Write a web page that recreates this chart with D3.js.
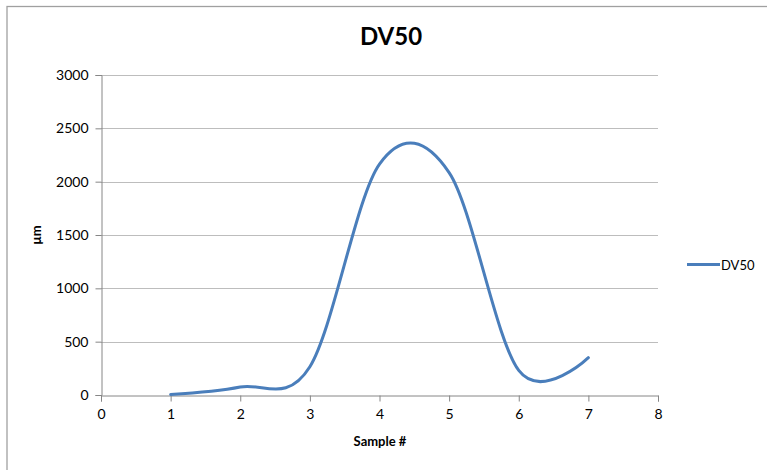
<!DOCTYPE html>
<html>
<head>
<meta charset="utf-8">
<script src="https://cdn.jsdelivr.net/npm/d3@7/dist/d3.min.js"></script>
<style>
  html, body { margin: 0; padding: 0; background: #fff; }
  svg { display: block; }
  text { font-family: Lato, "Open Sans", sans-serif; fill: #000; }
</style>
</head>
<body>
<script>
// Sample numbers and measured DV50 values (µm)
const samples = [1, 2, 3, 4, 5, 6, 7];
const dv50 = [5, 75, 265, 2165, 2085, 230, 350];
const xTicks = [0, 1, 2, 3, 4, 5, 6, 7, 8];
const yTicks = [0, 500, 1000, 1500, 2000, 2500, 3000];
const seriesName = "DV50";

const W = 767, H = 470;
const margin = { left: 101, right: 767 - 658, top: 75, bottom: 470 - 395 };

const svg = d3.select("body").append("svg").attr("width", W).attr("height", H);

// chart frame
svg.append("rect")
  .attr("x", 7).attr("y", 6.5).attr("width", 800).attr("height", 500)
  .attr("fill", "#fff").attr("stroke", "#a0a0a0").attr("stroke-width", 1.3);

const x = d3.scaleLinear().domain([0, 8]).range([margin.left, W - margin.right]);
const y = d3.scaleLinear().domain([0, 3000]).range([H - margin.bottom, margin.top]);

// horizontal gridlines
svg.append("g")
  .selectAll("line")
  .data(yTicks.filter(d => d > 0))
  .join("line")
  .attr("x1", x(0)).attr("x2", x(8))
  .attr("y1", d => Math.round(y(d)) + 0.5).attr("y2", d => Math.round(y(d)) + 0.5)
  .attr("stroke", "#bdbdbd").attr("stroke-width", 1);

// y axis
const yAxis = svg.append("g")
  .attr("transform", `translate(${Math.round(x(0)) + 0.5},0)`)
  .call(d3.axisLeft(y).tickValues(yTicks).tickSize(6).tickPadding(7).tickFormat(d3.format("d")));
yAxis.select(".domain").attr("stroke", "#868686");
yAxis.selectAll(".tick line").attr("stroke", "#868686");
yAxis.selectAll(".tick text").style("font-size", "14px").style("font-family", "Lato, sans-serif").attr("fill", "#000");

// x axis
const xAxis = svg.append("g")
  .attr("transform", `translate(0,${Math.round(y(0)) + 0.5})`)
  .call(d3.axisBottom(x).tickValues(xTicks).tickSize(6).tickPadding(8).tickFormat(d3.format("d")));
xAxis.select(".domain").attr("stroke", "#868686");
xAxis.selectAll(".tick line").attr("stroke", "#868686");
xAxis.selectAll(".tick text").style("font-size", "14px").style("font-family", "Lato, sans-serif").attr("fill", "#000");

// smoothed series line (uniform Catmull-Rom spline)
const line = d3.line()
  .x((d, i) => x(samples[i]))
  .y(d => y(d))
  .curve(d3.curveCardinal.tension(0));

svg.append("path")
  .datum(dv50)
  .attr("d", line)
  .attr("fill", "none")
  .attr("stroke", "#4a7ebb")
  .attr("stroke-width", 3)
  .attr("stroke-linecap", "round");

// title
svg.append("text")
  .attr("x", 391).attr("y", 45)
  .attr("text-anchor", "middle")
  .style("font-size", "24px").style("font-weight", "bold")
  .text("DV50");

// axis titles
svg.append("text")
  .attr("transform", `translate(41,235) rotate(-90)`)
  .attr("text-anchor", "middle")
  .style("font-size", "13px").style("font-weight", "bold")
  .text("µm");

svg.append("text")
  .attr("x", 380).attr("y", 446)
  .attr("text-anchor", "middle")
  .style("font-size", "13px").style("font-weight", "bold")
  .text("Sample #");

// legend
const legend = svg.append("g").attr("transform", "translate(687,264.5)");
legend.append("line")
  .attr("x1", 0).attr("x2", 33).attr("y1", 0).attr("y2", 0)
  .attr("stroke", "#4a7ebb").attr("stroke-width", 3);
legend.append("text")
  .attr("x", 34).attr("y", 5)
  .style("font-size", "13px")
  .text(seriesName);
</script>
</body>
</html>
